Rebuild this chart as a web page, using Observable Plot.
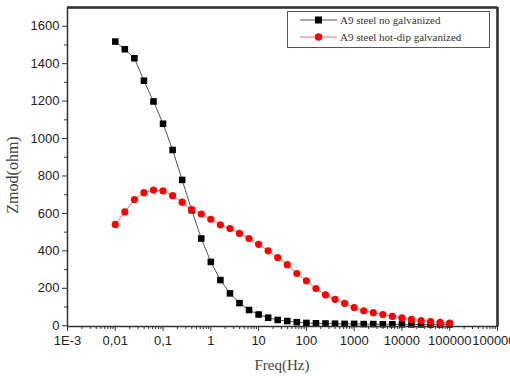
<!DOCTYPE html>
<html><head><meta charset="utf-8">
<script src="https://cdn.jsdelivr.net/npm/d3@7"></script>
<script src="https://cdn.jsdelivr.net/npm/@observablehq/plot@0.6"></script>
<style>
body{margin:0;background:#fff;}
#wrap{position:relative;width:510px;height:378px;overflow:hidden;background:#fff;}
.legend{position:absolute;left:287px;top:11px;width:201px;height:35px;border:1.5px solid #555;background:#fff;font-family:"Liberation Serif","Times New Roman",serif;font-size:11px;color:#333;}
.legend .row{position:absolute;left:12px;height:14px;display:flex;align-items:center;white-space:nowrap;}
.legend svg{margin-right:3px;}
.ttl{position:absolute;font-family:"Liberation Serif","Times New Roman",serif;color:#444;white-space:nowrap;}
</style></head><body><div id="wrap"></div>
<script>
const freq = [0.01,0.01585,0.02512,0.03981,0.0631,0.1,0.1585,0.2512,0.3981,0.631,1,1.585,2.512,3.981,6.31,10,15.85,25.12,39.81,63.1,100,158.5,251.2,398.1,631,1000,1585,2512,3981,6310,10000,15850,25120,39810,63100,100000];
const noGalv = [1518,1477,1429,1309,1198,1079,939,779,617,466,341,244,173,121,84,60,43,31,25,19,15,13,12,11,10,10,9,9,8,8,8,7,7,7,7,7];
const hotDip = [541,608,674,711,725,720,695,660,621,597,569,539,519,493,466,435,400,364,326,279,240,199,165,141,119,97,80,70,60,50,42,34,28,22,18,14];
const seriesNames = ["A9 steel no galvanized","A9 steel hot-dip galvanized"];
const xTickValues = [1e-3,1e-2,0.1,1,10,100,1000,1e4,1e5,1e6];
const xTickLabels = ["1E-3","0,01","0,1","1","10","100","1000","10000","100000","1000000"];
const yTickValues = [0,200,400,600,800,1000,1200,1400,1600];
const yMinorTicks = [100,300,500,700,900,1100,1300,1500];
const xTitle = "Freq(Hz)";
const yTitle = "Zmod(ohm)";

const xMinor = [];
for (let e = -3; e < 6; e++) for (let m = 2; m <= 9; m++) xMinor.push(m * Math.pow(10, e));
const labelMap = new Map(xTickValues.map((v, i) => [v, xTickLabels[i]]));

const black = freq.map((f, i) => ({f, z: noGalv[i]}));
const red = freq.map((f, i) => ({f, z: hotDip[i]}));

const chart = Plot.plot({
  width: 510, height: 378,
  marginLeft: 67, marginRight: 13, marginTop: 7, marginBottom: 52,
  style: {fontFamily: "'Liberation Sans', Arial, sans-serif", background: "white"},
  x: {type: "log", domain: [1e-3, 1e6]},
  y: {domain: [-4, 1700]},
  marks: [
    Plot.axisY(yTickValues, {anchor: "left", tickSize: 5, tickPadding: 3, fontSize: 13, fill: "#222", stroke: "#333", tickFormat: d => String(d), label: null}),
    Plot.axisY(yMinorTicks, {anchor: "left", tickSize: 3, text: null, stroke: "#333", label: null}),
    Plot.axisX(xTickValues, {anchor: "bottom", tickSize: 5, tickPadding: 4, fontSize: 13, fill: "#222", stroke: "#333", tickFormat: d => labelMap.get(d), label: null}),
    Plot.axisX(xMinor, {anchor: "bottom", tickSize: 3, text: null, stroke: "#333", label: null}),
    Plot.line(black, {x: "f", y: "z", stroke: "#555", strokeWidth: 1}),
    Plot.line(red, {x: "f", y: "z", stroke: "#ff6b6b", strokeWidth: 1}),
    Plot.dot(black, {x: "f", y: "z", symbol: "square", r: 3.7, fill: "black", stroke: "none"}),
    Plot.dot(red, {x: "f", y: "z", symbol: "circle", r: 3.6, fill: "#ff0000", stroke: "none"}),
    Plot.frame({stroke: "#333", strokeWidth: 1.5}),
    Plot.ruleY([1700], {stroke: "#333", strokeWidth: 2.5}),
    Plot.ruleX([1e6], {stroke: "#333", strokeWidth: 2.5})
  ]
});
const wrap = document.getElementById("wrap");
wrap.appendChild(chart);

const leg = document.createElement("div");
leg.className = "legend";
const sym = [
  `<svg width="37" height="10"><line x1="0" y1="5" x2="37" y2="5" stroke="#555" stroke-width="1"/><rect x="15" y="1.5" width="7" height="7" fill="black"/></svg>`,
  `<svg width="37" height="10"><line x1="0" y1="5" x2="37" y2="5" stroke="#ff6b6b" stroke-width="1"/><circle cx="18.5" cy="5" r="3.7" fill="#ff0000"/></svg>`
];
seriesNames.forEach((n, i) => {
  const r = document.createElement("div");
  r.className = "row";
  r.style.top = (1 + i * 17) + "px";
  r.innerHTML = sym[i] + "<span>" + n + "</span>";
  leg.appendChild(r);
});
wrap.appendChild(leg);

const xt = document.createElement("div");
xt.className = "ttl"; xt.textContent = xTitle; xt.style.fontSize = "15px";
xt.style.left = "282px"; xt.style.top = "365px"; xt.style.transform = "translate(-50%,-50%)";
wrap.appendChild(xt);
const yt = document.createElement("div");
yt.className = "ttl"; yt.textContent = yTitle; yt.style.fontSize = "16px";
yt.style.left = "13px"; yt.style.top = "175px"; yt.style.transform = "translate(-50%,-50%) rotate(-90deg)";
wrap.appendChild(yt);
</script></body></html>
